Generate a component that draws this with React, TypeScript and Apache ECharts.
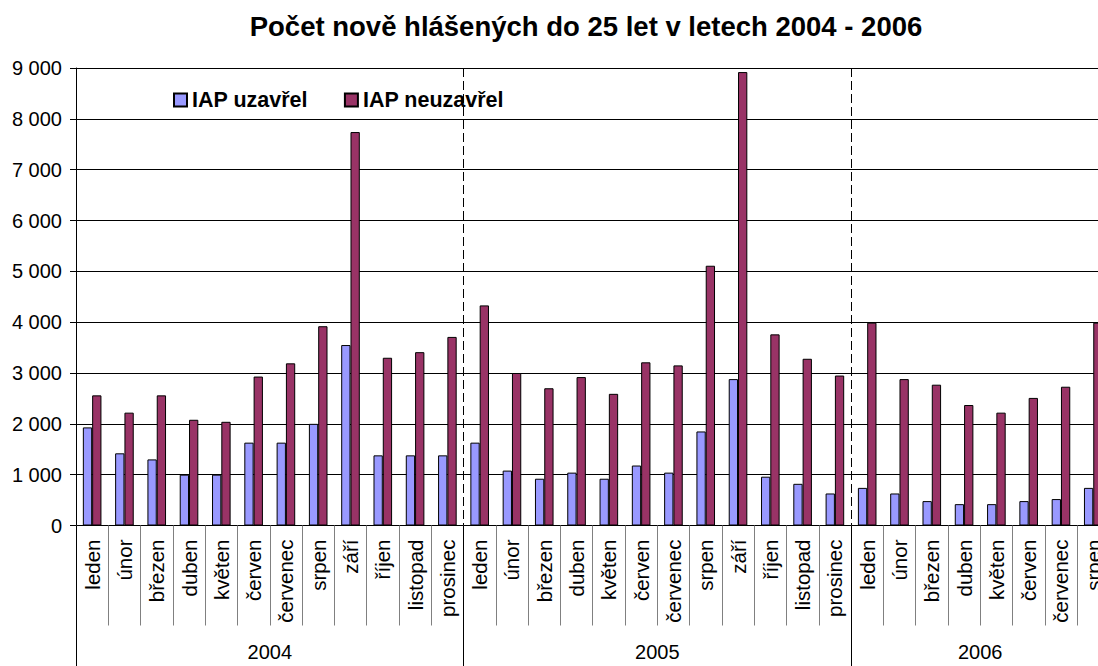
import React, { useEffect, useRef } from "react";
import * as echarts from "echarts";

const months = ["leden", "únor", "březen", "duben", "květen", "červen", "červenec", "srpen", "září", "říjen", "listopad", "prosinec"];
const categories = [...months, ...months, ...months.slice(0, 8)];
const years = ["2004", "2005", "2006"];
const yearStarts = [0, 12, 24];
const yearCenters = [6, 18, 28];

const uzavrel = [
  1930, 1420, 1300, 1000, 1000, 1630, 1630, 2000, 3550, 1380, 1380, 1380,
  1630, 1080, 920, 1040, 920, 1180, 1040, 1850, 2880, 960, 820, 630,
  740, 630, 480, 420, 420, 480, 520, 740,
];
const neuzavrel = [
  2560, 2220, 2560, 2080, 2040, 2930, 3190, 3920, 7740, 3300, 3410, 3710,
  4330, 3000, 2700, 2920, 2590, 3210, 3150, 5110, 8920, 3760, 3280, 2950,
  3990, 2880, 2770, 2370, 2220, 2510, 2730, 3990,
];
const yTicks = { min: 0, max: 9000, interval: 1000 };

const FONT = "'Liberation Sans', Arial, sans-serif";

export default function App() {
  const ref = useRef<HTMLDivElement>(null);
  useEffect(() => {
    if (!ref.current) return;
    const chart = echarts.init(ref.current, null, { renderer: "svg" });
    chart.setOption({
      animation: false,
      textStyle: { fontFamily: FONT },
      graphic: [
        {
          type: "text",
          x: 586,
          y: 26,
          style: {
            text: "Počet nově hlášených do 25 let v letech 2004 - 2006",
            fontFamily: FONT,
            fontSize: 27.5,
            fontWeight: "bold",
            fill: "#000",
            textAlign: "center",
            textVerticalAlign: "middle",
          },
        },
      ],
      legend: {
        left: 173,
        top: 89,
        padding: 0,
        itemWidth: 13,
        itemHeight: 13,
        itemGap: 36,
        icon: "rect",
        textStyle: { fontFamily: FONT, fontSize: 21.5, fontWeight: "bold", color: "#000" },
        data: ["IAP uzavřel", "IAP neuzavřel"],
      },
      grid: { left: 76, right: 0.6, top: 68, bottom: 140.5, containLabel: false, outerBoundsMode: "none" },
      xAxis: [
        {
          type: "category",
          data: categories,
          position: "bottom",
          axisLine: { show: true, lineStyle: { color: "#000", width: 1 } },
          axisTick: { show: true, interval: 0, length: 100, lineStyle: { color: "#808080", width: 1 } },
          axisLabel: { interval: 0, rotate: 90, margin: 14, fontSize: 20.5, color: "#000", fontFamily: FONT },
          splitLine: { show: false },
        },
        {
          type: "value",
          min: 0,
          max: categories.length,
          interval: 12,
          position: "bottom",
          axisLine: { show: false },
          axisTick: {
            show: true,
            customValues: yearStarts,
            length: 141,
            lineStyle: { color: "#000", width: 1 },
          },
          axisLabel: {
            show: true,
            customValues: yearCenters,
            margin: 116,
            fontSize: 20,
            color: "#000",
            fontFamily: FONT,
            formatter: (v: number) => years[yearCenters.indexOf(v)] ?? "",
          },
          splitLine: { show: true, lineStyle: { color: "#000", type: [9, 4], width: 1 } },
        },
      ],
      yAxis: {
        type: "value",
        min: yTicks.min,
        max: yTicks.max,
        interval: yTicks.interval,
        axisLine: { show: true, lineStyle: { color: "#000", width: 1 } },
        axisTick: { show: true, length: 6, lineStyle: { color: "#000" } },
        axisLabel: {
          margin: 14,
          fontSize: 20,
          color: "#000",
          fontFamily: FONT,
          formatter: (v: number) => String(v).replace(/\B(?=(\d{3})+(?!\d))/g, " "),
        },
        splitLine: { show: true, lineStyle: { color: "#000", width: 1 } },
      },
      series: [
        {
          name: "IAP uzavřel",
          type: "bar",
          xAxisIndex: 0,
          data: uzavrel,
          barWidth: 9.3,
          barGap: "0%",
          itemStyle: { color: "#9999FF", borderColor: "#000", borderWidth: 1 },
        },
        {
          name: "IAP neuzavřel",
          type: "bar",
          xAxisIndex: 0,
          data: neuzavrel,
          barWidth: 9.3,
          barGap: "0%",
          itemStyle: { color: "#993366", borderColor: "#000", borderWidth: 1 },
        },
      ],
    });
    return () => chart.dispose();
  }, []);
  return (
    <div style={{ position: "fixed", left: 0, top: 0, width: 1098, height: 666, overflow: "hidden", background: "#fff" }}>
      <div ref={ref} style={{ width: 1110, height: 666 }} />
    </div>
  );
}
